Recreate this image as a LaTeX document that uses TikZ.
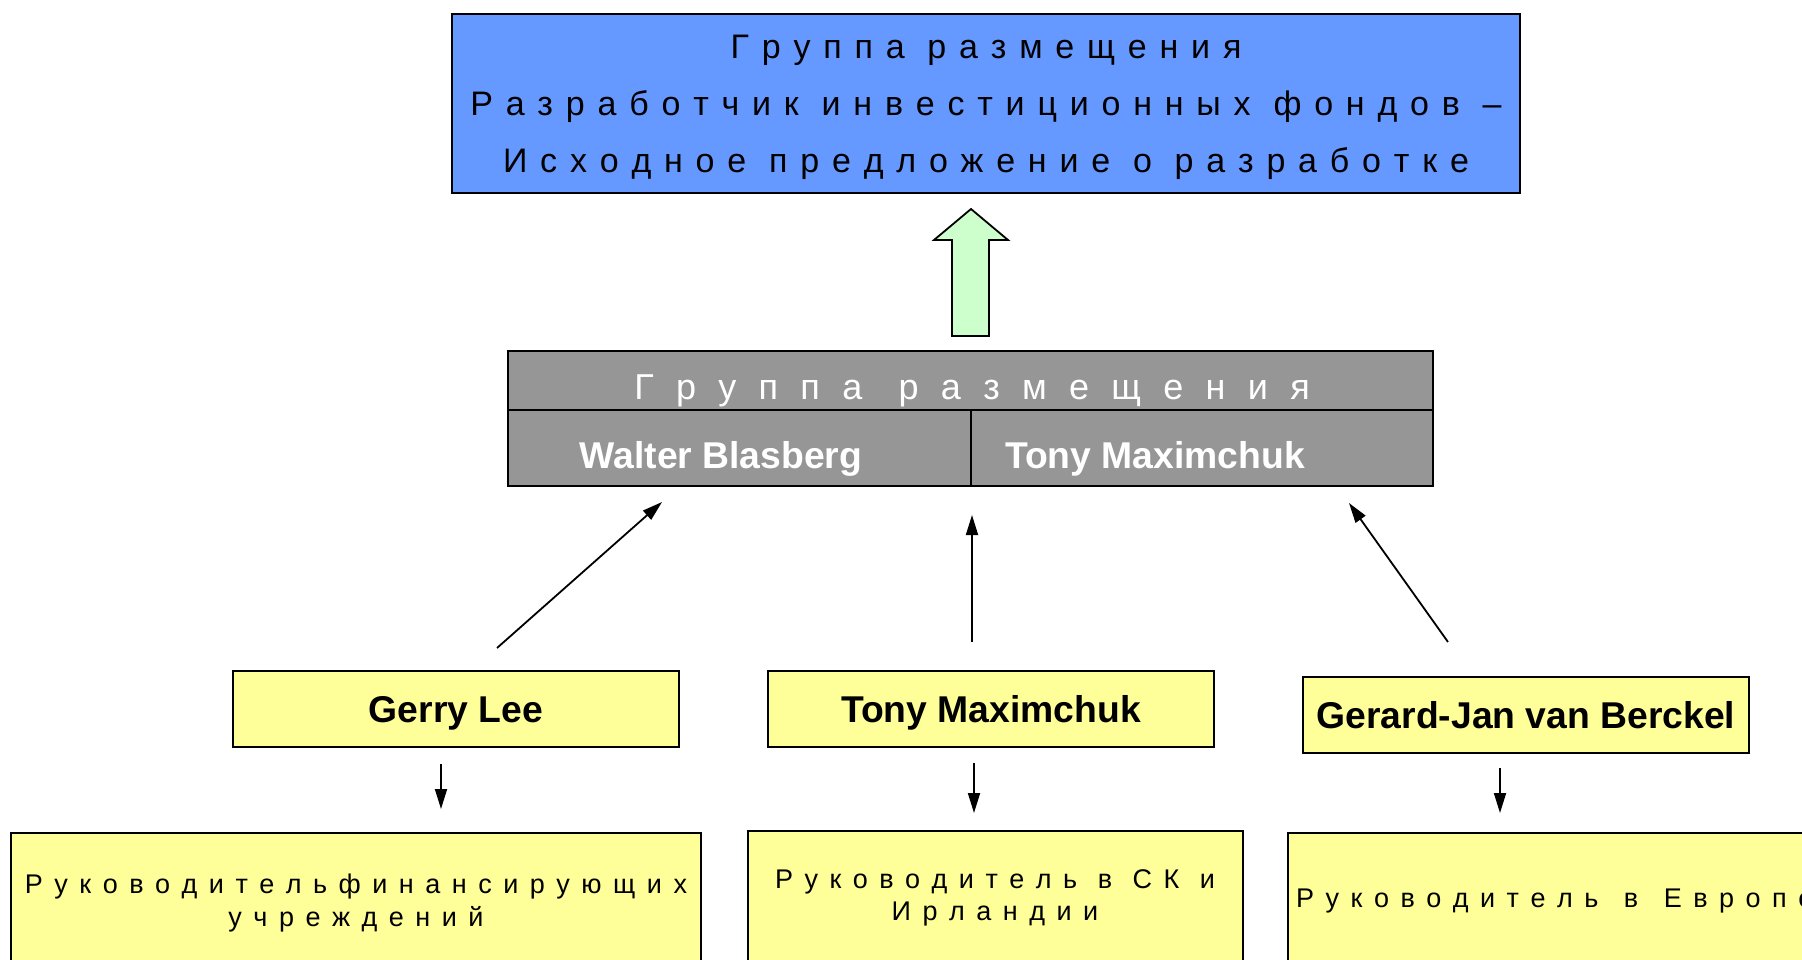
\documentclass[tikz,border=0pt]{standalone}
\usepackage{fontspec}
\setmainfont{Liberation Sans}
\usetikzlibrary{arrows.meta}
\definecolor{topblue}{HTML}{6699FF}
\definecolor{arrowgreen}{HTML}{CCFFCC}
\definecolor{boxgray}{HTML}{969696}
\definecolor{boxyellow}{HTML}{FFFF99}
\newlength\wgap
\newcommand\spfont[3]{\fontsize{#1}{#1}\selectfont\spaceskip=#2pt\relax\setlength\wgap{#3pt}}
\newcommand\wg{\hskip\wgap\relax}
\tikzset{
  box/.style={draw=black, line width=2pt, inner sep=0pt},
  txt/.style={inner sep=0pt, anchor=base},
  toptxt/.style={txt, font=\spfont{34}{12.8}{10}},
  graytitle/.style={txt, text=white, font=\spfont{36}{22.3}{14}},
  nametxt/.style={txt, font=\fontsize{37.3}{37.3}\selectfont\bfseries},
  lowtxt/.style={txt, font=\spfont{27}{11.5}{9}},
  conn/.style={line width=1.8pt, -{Triangle[length=20pt,width=12pt]}},
}
\begin{document}
\begin{tikzpicture}[x=1pt,y=-1pt]
\useasboundingbox (0,0) rectangle (1802,959);
\clip (0,0) rectangle (1802,959);
\fill[white] (0,0) rectangle (1802,959);

% top blue box
\node[box, fill=topblue, minimum width=1068pt, minimum height=179pt] (top) at (986,103.5) {};
\node[toptxt] (t1) at (986,58) {Г р у п п а \wg р а з м е щ е н и я};
\node[toptxt] (t2) at (986,115) {Р а з р а б о т ч и к \wg и н в е с т и ц и о н н ы х \wg ф о н д о в \wg –};
\node[toptxt] (t3) at (986,172) {И с х о д н о е \wg п р е д л о ж е н и е \wg о \wg р а з р а б о т к е};

% green block arrow
\draw[line width=1.8pt, fill=arrowgreen, line join=miter]
  (971,209) -- (1008,240) -- (989,240) -- (989,336) -- (952,336) -- (952,240) -- (934,240) -- cycle;

% gray box
\node[box, fill=boxgray, minimum width=925pt, minimum height=59pt] (gtitle) at (970.5,380.5) {};
\node[box, fill=boxgray, minimum width=463pt, minimum height=76pt] (gleft) at (739.5,448) {};
\node[box, fill=boxgray, minimum width=462pt, minimum height=76pt] (gright) at (1202,448) {};
\node[graytitle] (gt) at (972,399) {Г р у п п а \wg р а з м е щ е н и я};
\node[nametxt, text=white] (wb) at (721,468) {Walter Blasberg};
\node[nametxt, text=white] (tm1) at (1155,468) {Tony Maximchuk};

% yellow name boxes
\node[box, fill=boxyellow, minimum width=446pt, minimum height=76pt] (gl) at (456,709) {};
\node[box, fill=boxyellow, minimum width=446pt, minimum height=76pt] (tm) at (991,709) {};
\node[box, fill=boxyellow, minimum width=446pt, minimum height=76pt] (gj) at (1526,715) {};
\node[nametxt] (glt) at (456,722) {Gerry Lee};
\node[nametxt] (tmt) at (991,722) {Tony Maximchuk};
\node[nametxt] (gjt) at (1526,728) {Gerard-Jan van Berckel};

% lower boxes
\node[box, fill=boxyellow, minimum width=690pt, minimum height=150pt] (bl) at (356,908) {};
\node[box, fill=boxyellow, minimum width=495pt, minimum height=150pt] (bm) at (995.5,906) {};
\node[box, fill=boxyellow, minimum width=600pt, minimum height=150pt] (br) at (1588,908) {};
\node[lowtxt] (bl1) at (356,893) {Р у к о в о д и т е л ь ф и н а н с и р у ю щ и х};
\node[lowtxt] (bl2) at (356,926) {у ч р е ж д е н и й};
\node[lowtxt] (bm1) at (995,888) {Р у к о в о д и т е л ь \wg в \wg С К \wg и};
\node[lowtxt] (bm2) at (995,920) {И р л а н д и и};
\node[lowtxt, anchor=base west, font=\spfont{27}{11.5}{14}] (br1) at (1296,907) {Р у к о в о д и т е л ь \wg в \wg Е в р о п е};

% connectors
\coordinate (a1s) at (497,648);  \coordinate (a1e) at (662,502);
\coordinate (a2s) at (972,642);  \coordinate (a2e) at (972,515);
\coordinate (a3s) at (1448,642); \coordinate (a3e) at (1349,503);
\coordinate (d1s) at (441,764);  \coordinate (d1e) at (441,809);
\coordinate (d2s) at (974,763);  \coordinate (d2e) at (974,813);
\coordinate (d3s) at (1500,768); \coordinate (d3e) at (1500,813);
\draw[conn] (a1s) -- (a1e);
\draw[conn] (a2s) -- (a2e);
\draw[conn] (a3s) -- (a3e);
\draw[conn] (d1s) -- (d1e);
\draw[conn] (d2s) -- (d2e);
\draw[conn] (d3s) -- (d3e);
\end{tikzpicture}
\end{document}
